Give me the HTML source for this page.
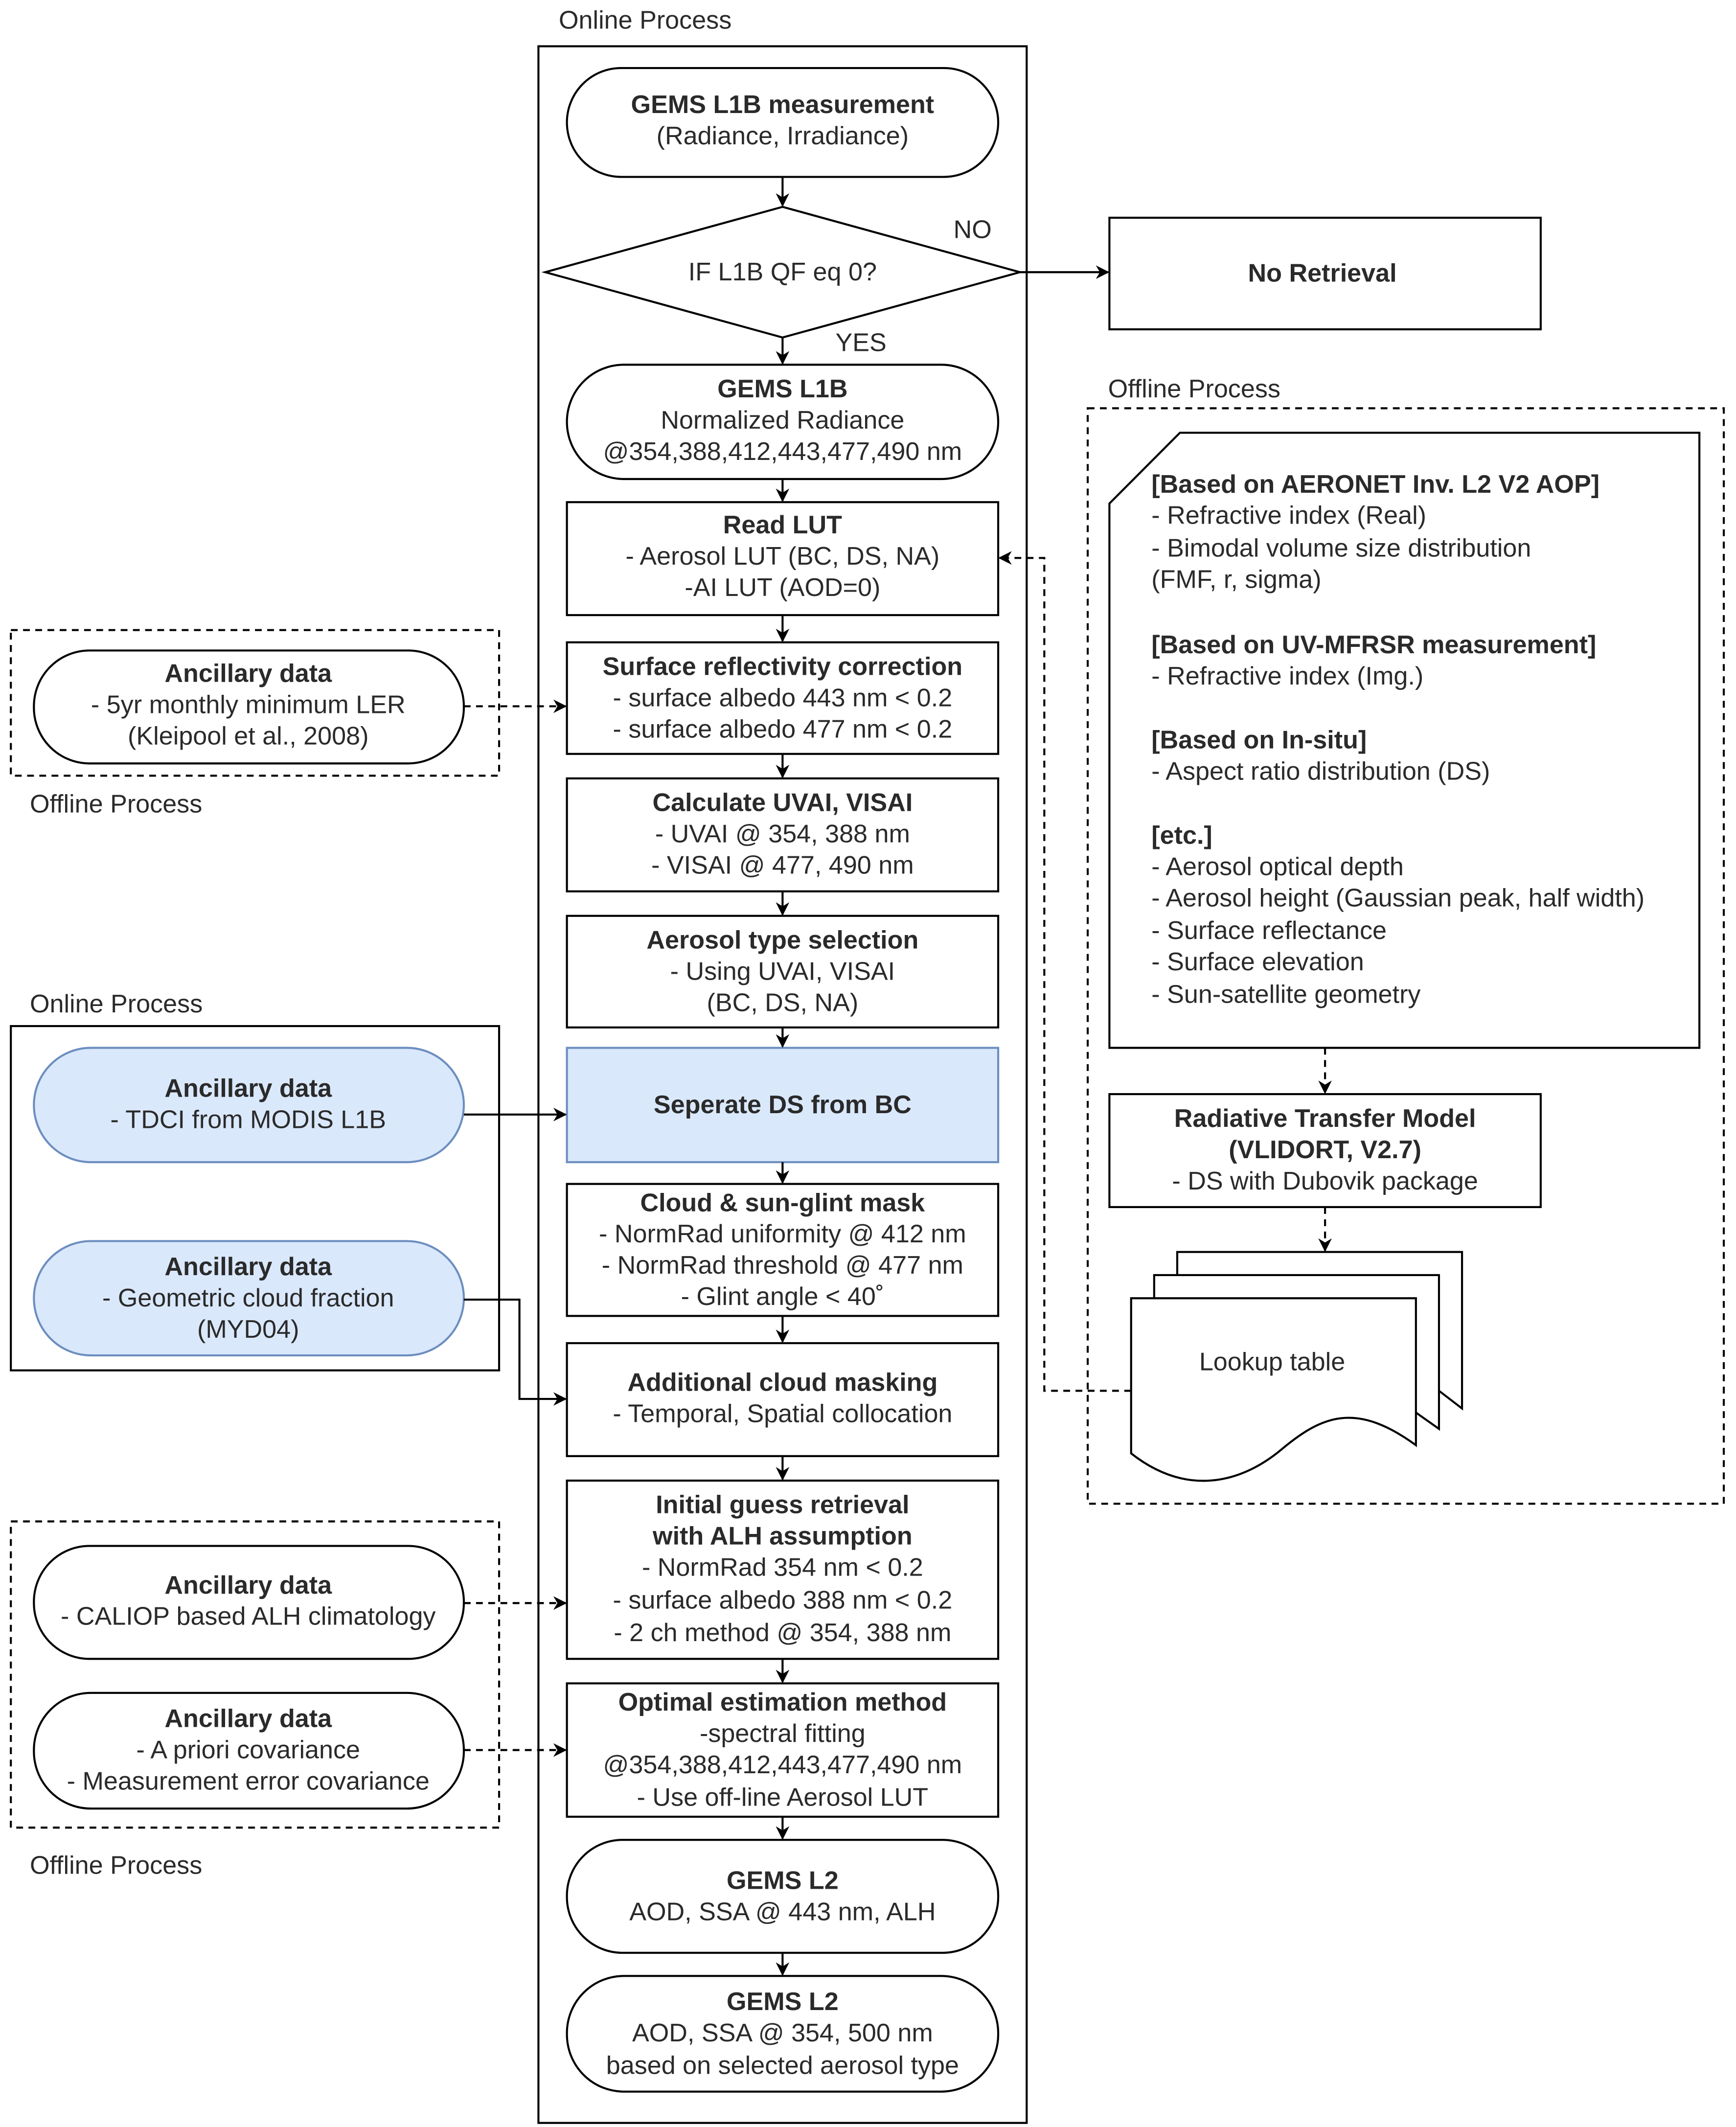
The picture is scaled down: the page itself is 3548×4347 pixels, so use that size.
<!DOCTYPE html>
<html><head><meta charset="utf-8"><style>html,body{margin:0;padding:0;background:#fff}svg{display:block}text{font-family:"Liberation Sans",sans-serif;font-size:18.8px;fill:#2a2a2a}.b{font-weight:bold}</style></head><body>
<svg width="3548" height="4347" viewBox="0 0 1280 1563" preserveAspectRatio="none" xmlns="http://www.w3.org/2000/svg">
<defs><marker id="a" markerWidth="10" markerHeight="10" refX="9" refY="5" orient="auto" markerUnits="userSpaceOnUse"><path d="M0,0 L10,5 L0,10 L3,5 Z" fill="#000"/></marker></defs>
<g fill="none" stroke="#000" stroke-width="1.5">
<rect x="397" y="34" width="360" height="1526"/>
<rect x="418" y="50" width="318" height="80" rx="40" fill="#fff"/>
<path d="M577,152 L752,200 L577,248 L402,200 Z" fill="#fff"/>
<rect x="818" y="160" width="318" height="82"/>
<rect x="418" y="268" width="318" height="84" rx="42"/>
<rect x="418" y="369" width="318" height="83"/>
<rect x="418" y="472" width="318" height="82"/>
<rect x="418" y="572" width="318" height="83"/>
<rect x="418" y="673" width="318" height="82"/>
<rect x="418" y="770" width="318" height="84" fill="#dae8fc" stroke="#6c8ebf"/>
<rect x="418" y="870" width="318" height="97"/>
<rect x="418" y="987" width="318" height="83"/>
<rect x="418" y="1088" width="318" height="131"/>
<rect x="418" y="1237" width="318" height="98"/>
<rect x="418" y="1352" width="318" height="83" rx="41"/>
<rect x="418" y="1452" width="318" height="85" rx="42"/>
<rect x="8" y="463" width="360" height="107" stroke-dasharray="5,4"/>
<rect x="25" y="478" width="317" height="83" rx="41"/>
<rect x="8" y="754" width="360" height="253"/>
<rect x="25" y="770" width="317" height="84" rx="42" fill="#dae8fc" stroke="#6c8ebf"/>
<rect x="25" y="912" width="317" height="84" rx="42" fill="#dae8fc" stroke="#6c8ebf"/>
<rect x="8" y="1118" width="360" height="225" stroke-dasharray="5,4"/>
<rect x="25" y="1136" width="317" height="83" rx="41"/>
<rect x="25" y="1244" width="317" height="85" rx="42"/>
<rect x="802" y="300" width="469" height="805" stroke-dasharray="5,4"/>
<path d="M870,318 L1253,318 L1253,770 L818,770 L818,370 Z"/>
<rect x="818" y="804" width="318" height="83"/>
<path d="M868,937 L868,920 L1078,920 L1078,1035 L1061,1022" fill="#fff"/>
<path d="M851,954 L851,937 L1061,937 L1061,1050 L1044,1038" fill="#fff"/>
<path d="M834,954 L1044,954 L1044,1062 C1000,1030 975,1040 945,1065 C915,1090 875,1100 834,1068 Z" fill="#fff"/>
</g>
<g stroke="#000" stroke-width="1.5" fill="none" marker-end="url(#a)">
<path d="M577,130 V151"/><path d="M577,248 V267"/><path d="M577,352 V368"/><path d="M577,452 V471"/>
<path d="M577,554 V571"/><path d="M577,655 V672"/><path d="M577,755 V769"/><path d="M577,854 V869"/>
<path d="M577,967 V986"/><path d="M577,1070 V1087"/><path d="M577,1219 V1236"/><path d="M577,1335 V1351"/><path d="M577,1435 V1451"/>
<path d="M752,200 H817"/>
<path d="M342,819 H417"/>
<path d="M342,955 H383 V1028 H417"/>
<path d="M342,519 H417" stroke-dasharray="5,4"/>
<path d="M342,1178 H417" stroke-dasharray="5,4"/>
<path d="M342,1286 H417" stroke-dasharray="5,4"/>
<path d="M977,770 V803" stroke-dasharray="5,4"/>
<path d="M977,887 V919" stroke-dasharray="5,4"/>
<path d="M834,1022 H770 V410 H737" stroke-dasharray="5,4"/>
</g>
<g text-anchor="middle">
<text x="577" y="83" class="b">GEMS L1B measurement</text><text x="577" y="106">(Radiance, Irradiance)</text>
<text x="577" y="206">IF L1B QF eq 0?</text>
<text x="975" y="207" class="b">No Retrieval</text>
<text x="577" y="292" class="b">GEMS L1B</text><text x="577" y="315">Normalized Radiance</text><text x="577" y="338">@354,388,412,443,477,490 nm</text>
<text x="577" y="392" class="b">Read LUT</text><text x="577" y="415">- Aerosol LUT (BC, DS, NA)</text><text x="577" y="438">-AI LUT (AOD=0)</text>
<text x="577" y="496" class="b">Surface reflectivity correction</text><text x="577" y="519">- surface albedo 443 nm &lt; 0.2</text><text x="577" y="542">- surface albedo 477 nm &lt; 0.2</text>
<text x="577" y="596" class="b">Calculate UVAI, VISAI</text><text x="577" y="619">- UVAI @ 354, 388 nm</text><text x="577" y="642">- VISAI @ 477, 490 nm</text>
<text x="577" y="697" class="b">Aerosol type selection</text><text x="577" y="720">- Using UVAI, VISAI</text><text x="577" y="743">(BC, DS, NA)</text>
<text x="577" y="818" class="b">Seperate DS from BC</text>
<text x="577" y="890" class="b">Cloud &amp; sun-glint mask</text><text x="577" y="913">- NormRad uniformity @ 412 nm</text><text x="577" y="936">- NormRad threshold @ 477 nm</text><text x="577" y="959">- Glint angle &lt; 40˚</text>
<text x="577" y="1022" class="b">Additional cloud masking</text><text x="577" y="1045">- Temporal, Spatial collocation</text>
<text x="577" y="1112" class="b">Initial guess retrieval</text><text x="577" y="1135" class="b">with ALH assumption</text><text x="577" y="1158">- NormRad 354 nm &lt; 0.2</text><text x="577" y="1182">- surface albedo 388 nm &lt; 0.2</text><text x="577" y="1206">- 2 ch method @ 354, 388 nm</text>
<text x="577" y="1257" class="b">Optimal estimation method</text><text x="577" y="1280">-spectral fitting</text><text x="577" y="1303">@354,388,412,443,477,490 nm</text><text x="577" y="1327">- Use off-line Aerosol LUT</text>
<text x="577" y="1388" class="b">GEMS L2</text><text x="577" y="1411">AOD, SSA @ 443 nm, ALH</text>
<text x="577" y="1477" class="b">GEMS L2</text><text x="577" y="1500">AOD, SSA @ 354, 500 nm</text><text x="577" y="1524">based on selected aerosol type</text>
<text x="183" y="501" class="b">Ancillary data</text><text x="183" y="524">- 5yr monthly minimum LER</text><text x="183" y="547">(Kleipool et al., 2008)</text>
<text x="183" y="806" class="b">Ancillary data</text><text x="183" y="829">- TDCI from MODIS L1B</text>
<text x="183" y="937" class="b">Ancillary data</text><text x="183" y="960">- Geometric cloud fraction</text><text x="183" y="983">(MYD04)</text>
<text x="183" y="1171" class="b">Ancillary data</text><text x="183" y="1194">- CALIOP based ALH climatology</text>
<text x="183" y="1269" class="b">Ancillary data</text><text x="183" y="1292">- A priori covariance</text><text x="183" y="1315">- Measurement error covariance</text>
<text x="977" y="828" class="b">Radiative Transfer Model</text><text x="977" y="851" class="b">(VLIDORT, V2.7)</text><text x="977" y="874">- DS with Dubovik package</text>
<text x="938" y="1007">Lookup table</text>
</g>
<g>
<text x="412" y="21">Online Process</text>
<text x="703" y="175">NO</text><text x="616" y="258">YES</text>
<text x="22" y="597">Offline Process</text>
<text x="22" y="744">Online Process</text>
<text x="22" y="1377">Offline Process</text>
<text x="817" y="292">Offline Process</text>
<text x="849" y="362" class="b">[Based on AERONET Inv. L2 V2 AOP]</text>
<text x="849" y="385">- Refractive index (Real)</text>
<text x="849" y="409">- Bimodal volume size distribution</text>
<text x="849" y="432">(FMF, r, sigma)</text>
<text x="849" y="480" class="b">[Based on UV-MFRSR measurement]</text>
<text x="849" y="503">- Refractive index (Img.)</text>
<text x="849" y="550" class="b">[Based on In-situ]</text>
<text x="849" y="573">- Aspect ratio distribution (DS)</text>
<text x="849" y="620" class="b">[etc.]</text>
<text x="849" y="643">- Aerosol optical depth</text>
<text x="849" y="666">- Aerosol height (Gaussian peak, half width)</text>
<text x="849" y="690">- Surface reflectance</text>
<text x="849" y="713">- Surface elevation</text>
<text x="849" y="737">- Sun-satellite geometry</text>
</g>
</svg>
</body></html>
